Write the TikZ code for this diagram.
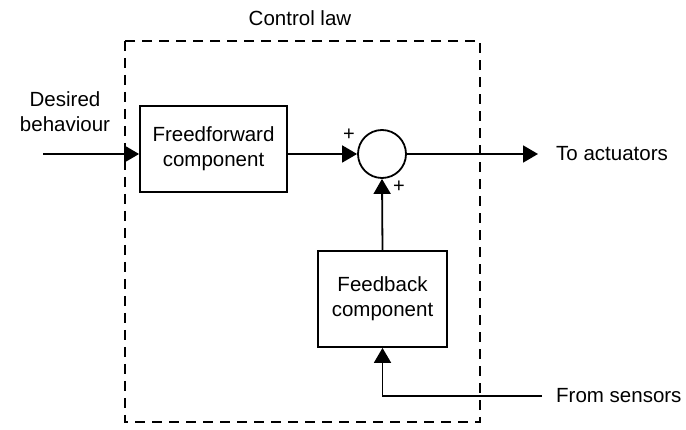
\documentclass[tikz,border=0pt]{standalone}
\usepackage{fontspec}
\setmainfont{Liberation Sans}
\usetikzlibrary{arrows.meta}
\begin{document}
\begin{tikzpicture}[x=1pt,y=-1pt,
  every node/.style={font=\fontsize{20.5}{25}\selectfont, inner sep=0pt},
  blk/.style={draw, line width=1.8pt, align=center, inner sep=0pt},
  wire/.style={line width=1.8pt},
  arr/.style={wire, -{Triangle[length=15pt,width=17pt]}},
  sumnode/.style={draw, circle, line width=1.8pt, minimum size=48pt},
  lbl/.style={align=center}]
\useasboundingbox (0,0) rectangle (686,430);
\draw[line width=1.8pt, dash pattern=on 10pt off 7pt] (125,41) rectangle (480,422);
\node[lbl] (title) at (300,18) {Control law};
\node[blk, minimum width=147pt, minimum height=86pt] (ff) at (213.5,149) {Freedforward\\component};
\node[sumnode] (sum) at (382,154) {};
\node[blk, minimum width=129pt, minimum height=96pt] (fb) at (382.5,299) {Feedback\\component};
\node[lbl] (des) at (65,112) {Desired\\behaviour};
\coordinate (in) at (43,154);
\coordinate (out) at (538,154);
\node[anchor=west] (act) at (556,154) {To actuators};
\coordinate (sens) at (542,396);
\coordinate (corner) at (382.5,396);
\node[anchor=west] (fs) at (556,396) {From sensors};
\node (p1) at (349,135) {\fontsize{20}{20}\selectfont +};
\node (p2) at (399,187) {\fontsize{20}{20}\selectfont +};
\draw[arr] (in) -- (ff.west |- in);
\draw[arr] (ff.east |- sum) -- (sum.west);
\draw[arr] (sum.east) -- (out);
\draw[arr] (fb.north) -- (sum.south);
\draw[arr] (sens) -- (corner) -- (fb.south);
\end{tikzpicture}
\end{document}
